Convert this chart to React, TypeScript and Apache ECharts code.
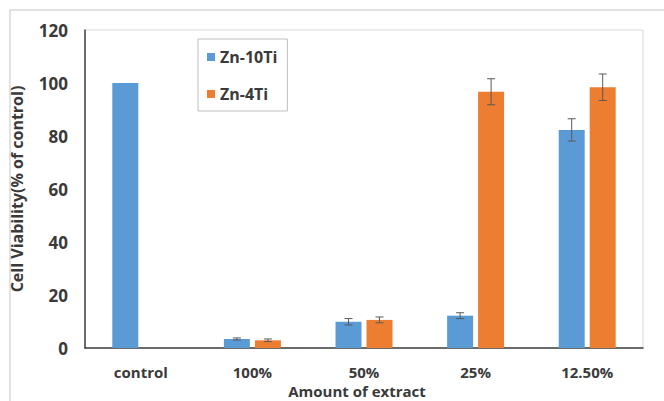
import React, { useEffect, useRef } from "react";
import * as echarts from "echarts";

// Cell viability of extracts at each dilution
const categories = ["control", "100%", "50%", "25%", "12.50%"];
const zn10Ti = [100, 3.4, 9.9, 12.2, 82.3];
const zn10TiErr = [0, 0.4, 1.2, 1.1, 4.2];
const zn4Ti: (number | null)[] = [null, 2.9, 10.6, 96.7, 98.4];
const zn4TiErr = [0, 0.5, 1.1, 4.9, 5.0];
const yTicks = [0, 20, 40, 60, 80, 100, 120];

const BLUE = "#5B9BD5";
const ORANGE = "#ED7D31";
const TEXT = "#3a3a3a";
const FONT = "'Open Sans', 'Liberation Sans', sans-serif";
const BAR_W = 26;
const BAR_GAP = 5;

function errorSeries(values: (number | null)[], errs: number[], side: number) {
  const data = values
    .map((v, i) => (v == null || errs[i] === 0 ? null : [i, v, errs[i]]))
    .filter((d) => d !== null);
  return {
    type: "custom",
    silent: true,
    z: 5,
    data,
    renderItem: (params: any, api: any) => {
      const idx = api.value(0);
      const v = api.value(1);
      const e = api.value(2);
      const c = api.coord([idx, v]);
      const x = c[0] + side * (BAR_W + BAR_GAP) / 2;
      const top = api.coord([idx, v + e])[1];
      const bot = api.coord([idx, v - e])[1];
      const cap = 4;
      const style = { stroke: "#595959", lineWidth: 1 };
      return {
        type: "group",
        children: [
          { type: "line", shape: { x1: x, y1: top, x2: x, y2: bot }, style },
          { type: "line", shape: { x1: x - cap, y1: top, x2: x + cap, y2: top }, style },
          { type: "line", shape: { x1: x - cap, y1: bot, x2: x + cap, y2: bot }, style },
        ],
      };
    },
  };
}

export default function App() {
  const ref = useRef<HTMLDivElement>(null);

  useEffect(() => {
    if (!ref.current) return;
    const chart = echarts.init(ref.current, undefined, { renderer: "svg" });
    chart.setOption({
      animation: false,
      backgroundColor: "#ffffff",
      graphic: [
        {
          type: "rect",
          shape: { x: 10, y: 10, width: 700, height: 420 },
          style: { fill: "none", stroke: "#d9d9d9", lineWidth: 1.5 },
          silent: true,
        },
        {
          type: "text",
          x: 357,
          y: 391,
          style: {
            text: "Amount of extract",
            font: `bold 15px ${FONT}`,
            fill: TEXT,
            align: "center",
            verticalAlign: "middle",
          },
        },
      ],
      grid: {
        left: 85,
        right: 21,
        top: 30,
        bottom: 53,
        show: true,
        borderColor: "#d9d9d9",
        borderWidth: 1,
      },
      legend: {
        orient: "vertical",
        left: 198,
        top: 39,
        padding: [9, 10, 8, 9],
        itemGap: 19,
        itemWidth: 8,
        itemHeight: 8,
        itemTextGap: 7,
        borderColor: "#bfbfbf",
        borderWidth: 1,
        icon: "rect",
        textStyle: {
          fontFamily: FONT,
          fontWeight: "bold",
          fontSize: 16,
          lineHeight: 18,
          color: TEXT,
        },
        data: ["Zn-10Ti", "Zn-4Ti"],
      },
      xAxis: {
        type: "category",
        data: categories,
        axisLine: { lineStyle: { color: "#404040", width: 1.5 } },
        axisTick: { show: false },
        axisLabel: {
          margin: 16,
          fontFamily: FONT,
          fontWeight: "bold",
          fontSize: 15,
          lineHeight: 16,
          color: TEXT,
        },
      },
      yAxis: {
        type: "value",
        min: yTicks[0],
        max: yTicks[yTicks.length - 1],
        interval: 20,
        name: "Cell Viability(% of control)",
        nameLocation: "middle",
        nameRotate: 90,
        nameGap: 60,
        nameTextStyle: {
          fontFamily: FONT,
          fontWeight: "bold",
          fontSize: 16,
          color: TEXT,
        },
        axisLine: { show: true, lineStyle: { color: "#404040", width: 1.5 } },
        axisTick: { show: false },
        splitLine: { show: false },
        axisLabel: {
          margin: 17,
          fontFamily: FONT,
          fontWeight: "bold",
          fontSize: 17,
          color: TEXT,
        },
      },
      series: [
        {
          name: "Zn-10Ti",
          type: "bar",
          data: zn10Ti,
          barWidth: BAR_W,
          barGap: `${(BAR_GAP / BAR_W) * 100}%`,
          itemStyle: { color: BLUE },
        },
        {
          name: "Zn-4Ti",
          type: "bar",
          data: zn4Ti,
          barWidth: BAR_W,
          itemStyle: { color: ORANGE },
        },
        errorSeries(zn10Ti, zn10TiErr, -1),
        errorSeries(zn4Ti, zn4TiErr, 1),
      ],
    });
    return () => chart.dispose();
  }, []);

  return (
    <div
      ref={ref}
      style={{ position: "fixed", left: 0, top: 0, width: 664, height: 401 }}
    />
  );
}
